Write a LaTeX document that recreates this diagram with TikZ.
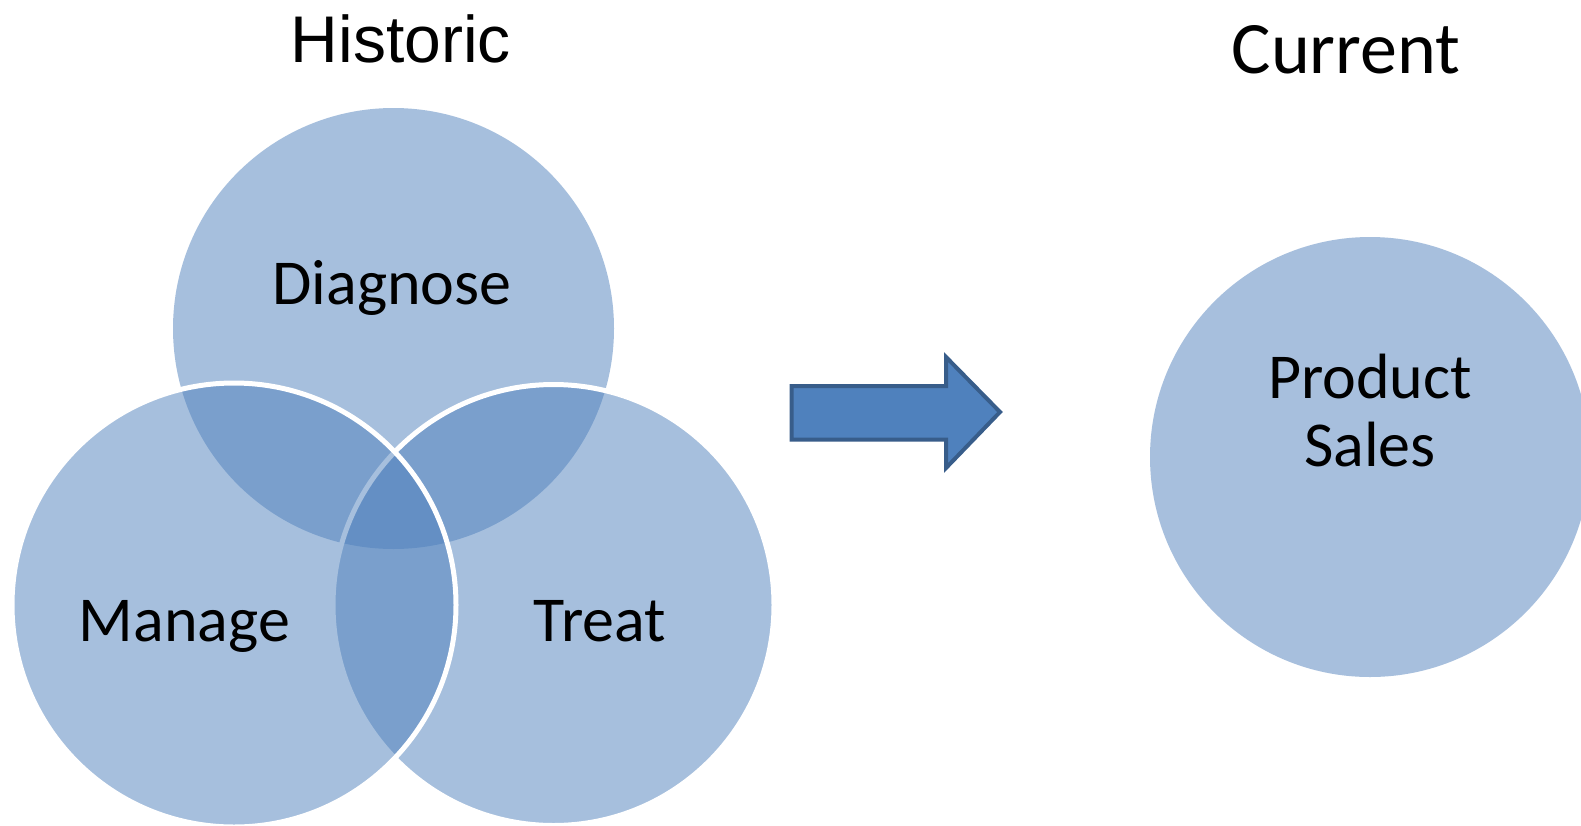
\documentclass[tikz,border=0pt]{standalone}
\usepackage{fontspec}
\setmainfont{Carlito}
\newfontfamily\arialfont{Liberation Sans}
\definecolor{vennblue}{HTML}{4F81BD}
\definecolor{solidblue}{HTML}{A7BFDD}
\definecolor{arrowedge}{HTML}{385D8A}
\begin{document}
\begin{tikzpicture}[x=1pt,y=-1pt,
  venn/.style={circle, inner sep=0pt, fill=vennblue, fill opacity=0.5},
  vennw/.style={venn, draw=white, draw opacity=1, line width=5pt},
  lbl/.style={anchor=base, inner sep=0pt, font=\fontsize{64}{68}\selectfont, text=black, align=center},
]
\useasboundingbox (0,0) rectangle (1581,825);
\clip (0,0) rectangle (1581,825);
\fill[white] (0,0) rectangle (1581,825);
% Venn circles
\node[venn, minimum size=441pt] (diag) at (393.5,328.5) {};
\node[vennw, minimum size=441pt] (treat) at (553.5,605) {};
\node[vennw, minimum size=444pt] (manage) at (234,605) {};
% current circle
\node[circle, inner sep=0pt, fill=solidblue, minimum size=440pt] (sales) at (1370,457) {};
% texts
\node[lbl, font=\arialfont\fontsize{66}{70}\selectfont] (historic) at (401,62) {Historic};
\node[lbl, font=\fontsize{74}{70}\selectfont] (current) at (1346,73) {Current};
\node[lbl] (tdiag) at (392,304) {Diagnose};
\node[lbl] (tman) at (184.5,641) {Manage};
\node[lbl] (ttreat) at (600,641) {Treat};
\node[lbl] (tprod) at (1370,398) {Product};
\node[lbl] (tsales) at (1370,466) {Sales};
% arrow
\draw[fill=vennblue, draw=arrowedge, line width=4pt, line join=miter]
  (791.5,386) -- (946,386) -- (946,357) -- (1000,412) -- (946,468) -- (946,439.5) -- (791.5,439.5) -- cycle;
\end{tikzpicture}
\end{document}
